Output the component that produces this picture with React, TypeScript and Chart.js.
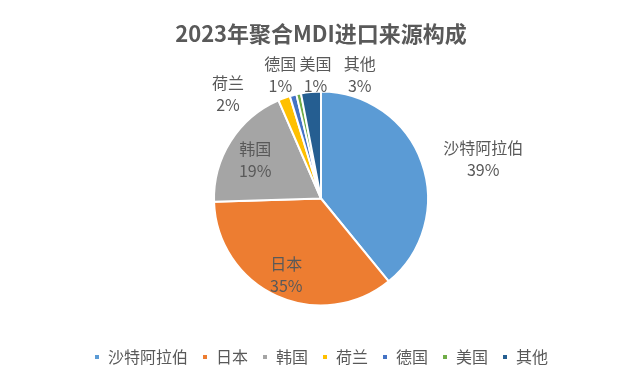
import React, { useEffect, useRef } from 'react';
import { Chart, registerables } from 'chart.js';

Chart.register(...registerables);

// ---- data ----
const titleText = '2023年聚合MDI进口来源构成';
const categories = ['沙特阿拉伯', '日本', '韩国', '荷兰', '德国', '美国', '其他'];
const shares = [39.1, 35.4, 19.0, 1.8, 1.0, 0.7, 3.0];
const colors = ['#5B9BD5', '#ED7D31', '#A5A5A5', '#FFC000', '#4472C4', '#70AD47', '#255E91'];

// label placement, in units of the pie radius relative to the pie centre
const labelOffsets: number[][] = [
  [1.516, -0.371],
  [-0.324, 0.714],
  [-0.615, -0.362],
  [-0.869, -0.977],
  [-0.38, -1.155],
  [-0.052, -1.155],
  [0.362, -1.155],
];

const FONT = '"Noto Sans CJK SC", "Microsoft YaHei", "Noto Sans", sans-serif';
const TEXT = '#595959';

const labelPlugin = {
  id: 'sliceLabels',
  afterDatasetsDraw(chart: any) {
    const ctx = chart.ctx;
    const meta = chart.getDatasetMeta(0);
    const data = chart.data.datasets[0].data as number[];
    const total = data.reduce((a, b) => a + b, 0);
    ctx.save();
    ctx.fillStyle = TEXT;
    ctx.font = `16px ${FONT}`;
    ctx.textAlign = 'center';
    ctx.textBaseline = 'middle';
    meta.data.forEach((arc: any, i: number) => {
      const p = arc.getProps(['x', 'y', 'outerRadius'], true);
      const r = p.outerRadius;
      const off = labelOffsets[i];
      const cx = p.x + off[0] * r;
      const cy = p.y + off[1] * r;
      const pct = Math.round((data[i] / total) * 100) + '%';
      ctx.fillText(chart.data.labels[i], cx, cy - 11);
      ctx.fillText(pct, cx, cy + 11);
    });
    ctx.restore();
  },
};

export default function App() {
  const ref = useRef<HTMLCanvasElement | null>(null);

  useEffect(() => {
    if (!ref.current) return;
    const chart = new Chart(ref.current, {
      type: 'pie',
      data: {
        labels: categories,
        datasets: [
          {
            data: shares,
            backgroundColor: colors,
            borderColor: '#ffffff',
            borderWidth: 2,
            radius: 107,
            hoverOffset: 0,
          } as any,
        ],
      },
      options: {
        responsive: false,
        animation: false,
        events: [],
        layout: { padding: { top: 0, bottom: 11, left: 0, right: 0 } },
        plugins: {
          title: {
            display: true,
            text: titleText,
            color: TEXT,
            font: { size: 22, weight: 'bold', family: FONT },
            padding: { top: 20, bottom: 15.6 },
          },
          legend: {
            display: true,
            position: 'bottom',
            labels: {
              boxWidth: 6,
              boxHeight: 6,
              padding: 14,
              color: TEXT,
              font: { size: 16, family: FONT },
            },
          },
          tooltip: { enabled: false },
        },
      } as any,
      plugins: [labelPlugin],
    });
    return () => chart.destroy();
  }, []);

  return (
    <div style={{ position: 'absolute', left: 0, top: 0, width: 642, height: 386, background: '#ffffff' }}>
      <canvas ref={ref} width={642} height={386} style={{ width: 642, height: 386, display: 'block' }} />
    </div>
  );
}
